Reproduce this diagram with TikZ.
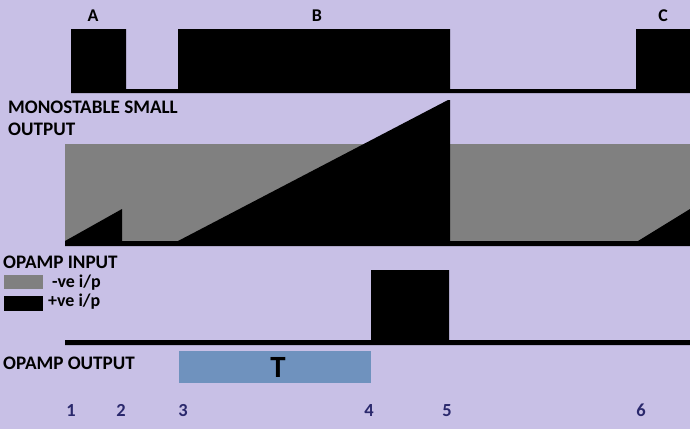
\documentclass[tikz,border=0pt]{standalone}
\usepackage{fontspec}
\setmainfont{Carlito}
\definecolor{bgcol}{RGB}{200,192,230}
\definecolor{rampgray}{RGB}{128,128,128}
\definecolor{tblue}{RGB}{111,146,190}
\definecolor{numcol}{RGB}{42,40,108}
\tikzset{
    lbl/.style={anchor=base west, inner sep=0pt, font=\fontsize{19.2}{22}\selectfont\bfseries},
    legend/.style={anchor=base west, inner sep=0pt, font=\fontsize{18}{21}\selectfont\bfseries},
    num/.style={anchor=base, inner sep=0pt, text=numcol, font=\fontsize{18.5}{21}\selectfont\bfseries},
    pulse/.style={anchor=base, inner sep=0pt, font=\fontsize{18}{21}\selectfont\bfseries}
}

\begin{document}
\begin{tikzpicture}[x=1bp, y=-1bp]
            \fill[bgcol] (0,0) rectangle (690,429);
            \useasboundingbox (0,0) rectangle (690,429);
            % trigger pulses
            \fill (71,93) -- (71,29) -- (126,29) -- (126,89) -- (178,89) -- (178,29) -- (450,29) -- (450,89)
                -- (636,89) -- (636,29) -- (690,29) -- (690,93) -- cycle;
            \node[pulse] (pa) at (93,21) {A};
            \node[pulse] (pb) at (317,21) {B};
            \node[pulse] (pc) at (663,21) {C};
            % monostable small output
            \node[lbl] (mono) at (8,113) {MONOSTABLE SMALL};
            \node[lbl] (out) at (8,135) {OUTPUT};
            \fill[rampgray] (65,144) rectangle (690,241);
            \fill (65,246) -- (65,241) -- (122,209) -- (122,241) -- (178,241) -- (448,100) -- (450,100) -- (450,241)
                -- (638,241) -- (690,209) -- (690,246) -- cycle;
            % opamp input
            \node[lbl] (inp) at (3,268) {OPAMP INPUT};
            \fill[rampgray] (4,275) rectangle (43,289);
            \node[legend] (neg) at (52,287) {-ve i/p};
            \fill (4,296) rectangle (43,311);
            \node[legend] (pos) at (48,306) {+ve i/p};
            \fill (65,345) -- (65,340) -- (371,340) -- (371,270) -- (449,270) -- (449,340) -- (690,340) -- (690,345) -- cycle;
            % opamp output
            \node[lbl] (oout) at (3,369) {OPAMP OUTPUT};
            \fill[tblue] (179,351) rectangle (371,383);
            \node[anchor=base, inner sep=0pt, font=\fontsize{31}{35}\selectfont\bfseries] (t) at (278,377) {T};
            % time marks
            \foreach \n/\x in {1/71, 2/121, 3/183, 4/369, 5/447, 6/641}
                \node[num] (t\n) at (\x,416) {\n};
        \end{tikzpicture}
\end{document}
